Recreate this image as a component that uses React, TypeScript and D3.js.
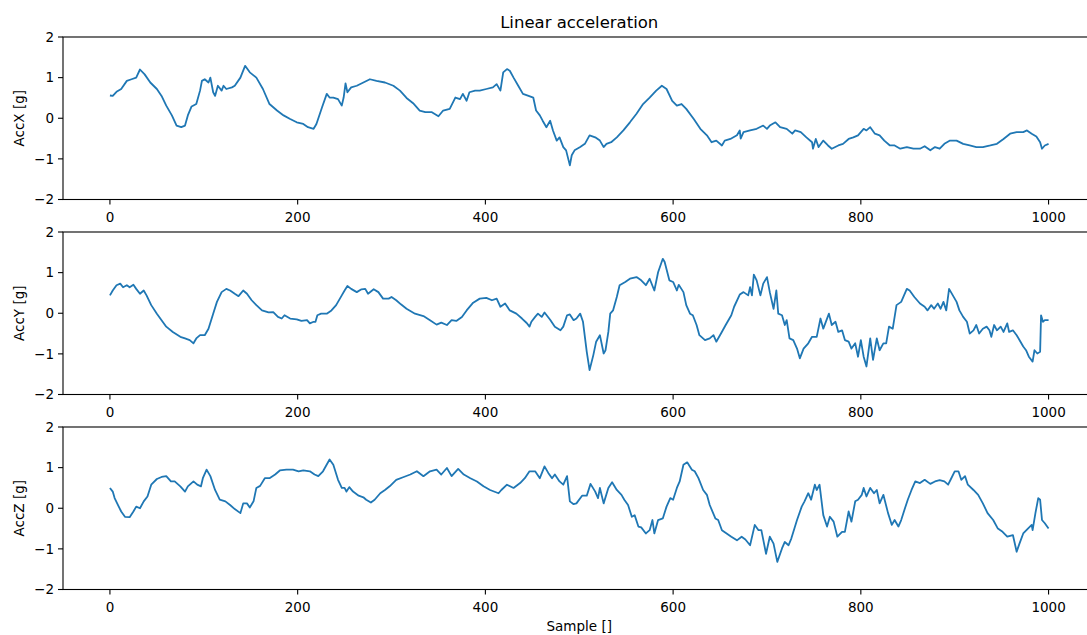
import React from "react";
import * as d3 from "d3";

// ---- Data (sample index, value in g) ----
const accXPoints: [number, number][] = [
  [0,0.56],[3,0.55],[7,0.65],[12,0.72],[18,0.92],[23,0.96],[28,1.0],[32,1.2],[37,1.08],[43,0.88],[50,0.72],[55,0.55],[60,0.31],[66,0.07],[71,-0.18],[76,-0.22],[80,-0.18],[83,0.07],[87,0.29],[92,0.35],[96,0.68],[98,0.92],[101,0.96],[105,0.88],[107,1.0],[110,0.64],[112,0.55],[115,0.8],[119,0.68],[121,0.8],[124,0.72],[130,0.76],[133,0.8],[139,1.0],[144,1.29],[149,1.13],[156,1.0],[163,0.72],[170,0.35],[178,0.19],[185,0.07],[192,-0.02],[199,-0.1],[206,-0.14],[211,-0.22],[217,-0.26],[220,-0.14],[226,0.27],[231,0.6],[234,0.51],[238,0.51],[243,0.47],[247,0.31],[249,0.51],[251,0.86],[253,0.64],[257,0.76],[263,0.8],[270,0.88],[277,0.96],[284,0.92],[293,0.88],[302,0.8],[309,0.68],[316,0.5],[323,0.37],[330,0.19],[336,0.15],[343,0.15],[350,0.05],[355,0.19],[362,0.23],[368,0.51],[373,0.47],[376,0.6],[380,0.43],[383,0.64],[389,0.68],[394,0.68],[401,0.72],[408,0.76],[412,0.84],[416,0.68],[419,1.13],[423,1.21],[426,1.17],[430,1.0],[435,0.8],[440,0.6],[446,0.55],[451,0.51],[454,0.19],[458,0.07],[461,-0.06],[465,-0.22],[469,-0.06],[472,-0.3],[476,-0.55],[479,-0.47],[483,-0.71],[486,-0.79],[490,-1.16],[492,-0.91],[495,-0.79],[501,-0.71],[506,-0.63],[511,-0.42],[517,-0.47],[522,-0.55],[526,-0.71],[529,-0.63],[534,-0.59],[540,-0.47],[547,-0.3],[554,-0.1],[561,0.11],[568,0.35],[575,0.51],[582,0.68],[588,0.8],[593,0.72],[599,0.43],[604,0.31],[609,0.35],[614,0.23],[622,-0.02],[629,-0.26],[636,-0.42],[641,-0.59],[646,-0.55],[652,-0.67],[655,-0.55],[661,-0.51],[668,-0.42],[671,-0.3],[672,-0.5],[675,-0.34],[682,-0.3],[689,-0.26],[696,-0.18],[700,-0.26],[703,-0.18],[709,-0.1],[714,-0.22],[721,-0.26],[727,-0.38],[730,-0.3],[736,-0.34],[742,-0.47],[748,-0.59],[749,-0.75],[752,-0.51],[755,-0.71],[760,-0.55],[765,-0.67],[769,-0.75],[776,-0.67],[781,-0.63],[787,-0.51],[792,-0.47],[797,-0.42],[803,-0.26],[806,-0.3],[810,-0.22],[815,-0.38],[820,-0.42],[825,-0.55],[831,-0.67],[836,-0.67],[842,-0.75],[849,-0.71],[856,-0.75],[863,-0.75],[868,-0.69],[874,-0.79],[879,-0.71],[884,-0.75],[889,-0.63],[895,-0.55],[902,-0.55],[909,-0.63],[916,-0.67],[923,-0.71],[930,-0.71],[938,-0.67],[945,-0.63],[952,-0.51],[959,-0.38],[966,-0.34],[973,-0.34],[977,-0.3],[982,-0.38],[987,-0.45],[991,-0.59],[993,-0.75],[996,-0.67],[1000,-0.63]
];

const accYPoints: [number, number][] = [
  [0,0.44],[3,0.56],[7,0.69],[11,0.73],[14,0.64],[18,0.69],[21,0.64],[25,0.7],[28,0.6],[32,0.48],[36,0.56],[39,0.44],[44,0.2],[50,-0.01],[55,-0.17],[60,-0.33],[67,-0.46],[75,-0.58],[80,-0.62],[85,-0.66],[89,-0.74],[92,-0.62],[96,-0.54],[101,-0.54],[105,-0.38],[110,-0.01],[114,0.28],[119,0.52],[124,0.6],[128,0.56],[133,0.48],[137,0.42],[142,0.56],[146,0.48],[151,0.32],[156,0.2],[162,0.07],[169,0.02],[174,0.03],[179,-0.09],[183,-0.13],[186,-0.05],[192,-0.13],[199,-0.15],[204,-0.19],[210,-0.17],[213,-0.25],[217,-0.21],[219,-0.21],[221,-0.05],[225,-0.01],[231,-0.01],[236,0.07],[241,0.2],[247,0.44],[250,0.56],[253,0.67],[257,0.6],[263,0.52],[268,0.59],[272,0.6],[275,0.48],[281,0.59],[286,0.52],[291,0.36],[297,0.36],[300,0.4],[305,0.32],[310,0.22],[316,0.11],[325,-0.01],[334,-0.07],[341,-0.17],[348,-0.28],[353,-0.23],[359,-0.29],[364,-0.17],[369,-0.19],[375,-0.09],[380,0.07],[387,0.26],[394,0.36],[401,0.38],[407,0.32],[412,0.36],[416,0.16],[421,0.24],[426,0.07],[433,-0.01],[439,-0.13],[444,-0.24],[447,-0.33],[449,-0.21],[453,-0.09],[456,-0.01],[460,-0.09],[463,0.02],[469,-0.16],[474,-0.33],[480,-0.42],[483,-0.33],[487,-0.05],[490,-0.03],[494,-0.17],[497,-0.13],[501,-0.01],[504,-0.21],[508,-0.95],[511,-1.4],[515,-1.03],[518,-0.7],[522,-0.54],[526,-0.99],[528,-0.91],[531,-0.46],[533,-0.01],[536,0.07],[540,0.4],[543,0.69],[549,0.77],[554,0.85],[561,0.89],[566,0.81],[571,0.69],[575,0.85],[580,0.56],[584,1.01],[589,1.34],[591,1.26],[596,0.81],[600,0.77],[604,0.56],[606,0.7],[611,0.52],[614,0.2],[618,-0.01],[621,-0.05],[625,-0.29],[628,-0.54],[634,-0.66],[639,-0.62],[643,-0.54],[646,-0.7],[651,-0.5],[656,-0.29],[662,-0.05],[665,0.16],[671,0.46],[675,0.52],[680,0.44],[682,0.64],[684,0.44],[686,0.95],[689,0.81],[693,0.44],[696,0.73],[700,0.89],[703,0.52],[707,0.11],[710,0.56],[712,-0.01],[716,-0.05],[719,-0.29],[721,-0.17],[724,-0.62],[728,-0.66],[732,-0.87],[735,-1.11],[739,-0.87],[744,-0.74],[748,-0.58],[753,-0.58],[757,-0.13],[760,-0.38],[766,-0.01],[769,-0.29],[773,-0.21],[776,-0.46],[780,-0.42],[783,-0.66],[787,-0.7],[790,-0.87],[794,-0.74],[797,-1.07],[800,-0.66],[803,-1.07],[806,-1.31],[810,-0.62],[813,-1.15],[817,-0.62],[820,-0.91],[824,-0.74],[827,-0.74],[830,-0.33],[834,-0.38],[838,0.2],[843,0.28],[849,0.6],[852,0.56],[857,0.4],[863,0.24],[868,0.16],[871,0.07],[875,0.2],[878,0.11],[882,0.24],[885,0.11],[888,0.28],[891,0.07],[894,0.6],[898,0.44],[902,0.28],[905,0.07],[909,-0.09],[913,-0.21],[916,-0.5],[920,-0.42],[923,-0.29],[926,-0.5],[930,-0.38],[934,-0.33],[937,-0.42],[939,-0.58],[942,-0.29],[945,-0.42],[949,-0.33],[952,-0.46],[956,-0.25],[958,-0.46],[962,-0.42],[966,-0.54],[969,-0.66],[973,-0.82],[976,-0.91],[979,-1.07],[983,-1.19],[985,-0.91],[988,-0.99],[991,-0.95],[992,-0.05],[994,-0.21],[996,-0.17],[1000,-0.17]
];

const accZPoints: [number, number][] = [
  [0,0.5],[3,0.41],[5,0.25],[9,0.06],[12,-0.08],[16,-0.21],[21,-0.22],[25,-0.08],[28,0.04],[32,0],[36,0.17],[40,0.29],[44,0.58],[50,0.72],[55,0.77],[60,0.79],[65,0.66],[69,0.66],[75,0.54],[80,0.41],[83,0.54],[89,0.66],[93,0.58],[97,0.54],[99,0.74],[103,0.95],[107,0.79],[112,0.45],[117,0.21],[123,0.17],[128,0.08],[133,-0.02],[139,-0.12],[142,0.12],[146,0.12],[149,0.02],[153,0.17],[156,0.5],[160,0.55],[165,0.74],[170,0.74],[176,0.83],[181,0.93],[188,0.95],[195,0.95],[201,0.91],[206,0.93],[213,0.91],[218,0.83],[222,0.79],[227,0.91],[234,1.2],[238,1.07],[243,0.7],[247,0.5],[250,0.5],[252,0.41],[255,0.52],[259,0.41],[265,0.31],[270,0.27],[273,0.21],[278,0.14],[282,0.21],[288,0.37],[293,0.45],[298,0.54],[305,0.7],[313,0.77],[320,0.83],[327,0.91],[334,0.79],[341,0.91],[348,0.95],[353,0.83],[359,0.99],[364,0.79],[371,0.97],[377,0.83],[384,0.74],[391,0.66],[398,0.54],[405,0.45],[414,0.37],[417,0.45],[423,0.58],[430,0.5],[437,0.62],[442,0.74],[447,0.91],[453,0.91],[458,0.74],[463,1.03],[467,0.87],[471,0.74],[474,0.83],[479,0.66],[483,0.58],[487,0.79],[490,0.17],[494,0.1],[497,0.12],[503,0.31],[508,0.31],[512,0.6],[517,0.41],[520,0.25],[522,0.5],[526,0.12],[531,0.5],[535,0.64],[540,0.45],[545,0.33],[548,0.21],[552,0.08],[556,-0.21],[559,-0.17],[563,-0.45],[566,-0.47],[571,-0.62],[575,-0.54],[578,-0.29],[580,-0.62],[584,-0.29],[589,-0.25],[593,0.04],[597,0.25],[600,0.21],[604,0.5],[607,0.66],[611,1.07],[615,1.13],[620,0.95],[623,0.91],[627,0.74],[632,0.45],[636,0.33],[639,0.08],[645,-0.25],[648,-0.29],[652,-0.54],[657,-0.62],[662,-0.7],[668,-0.79],[673,-0.7],[677,-0.77],[682,-0.91],[687,-0.41],[691,-0.54],[694,-0.54],[699,-1.12],[703,-0.7],[707,-0.87],[711,-1.32],[716,-0.99],[719,-0.83],[723,-0.91],[726,-0.74],[732,-0.29],[737,0.04],[740,0.17],[744,0.37],[747,0.21],[751,0.58],[753,0.45],[756,0.58],[760,-0.17],[764,-0.45],[767,-0.21],[771,-0.33],[775,-0.7],[780,-0.58],[783,-0.58],[787,-0.08],[790,-0.33],[794,0.17],[797,0.21],[801,0.33],[803,0.5],[806,0.29],[810,0.5],[814,0.37],[817,0.45],[820,0.12],[824,0.33],[829,-0.12],[833,-0.41],[836,-0.29],[840,-0.45],[843,-0.29],[847,0],[850,0.21],[854,0.45],[858,0.66],[863,0.62],[868,0.7],[874,0.6],[879,0.66],[884,0.69],[889,0.66],[893,0.58],[896,0.72],[900,0.91],[904,0.91],[907,0.7],[911,0.79],[914,0.58],[920,0.45],[925,0.33],[930,0.12],[935,-0.12],[941,-0.29],[946,-0.5],[951,-0.58],[956,-0.7],[962,-0.66],[966,-1.07],[969,-0.87],[973,-0.62],[978,-0.5],[982,-0.41],[983,-0.54],[986,-0.12],[989,0.25],[991,0.21],[993,-0.29],[996,-0.37],[1000,-0.5]
];

const seriesLabels = ["AccX [g]", "AccY [g]", "AccZ [g]"];
const xTicks = [0, 200, 400, 600, 800, 1000];
const yTicks = [-2, -1, 0, 1, 2];
const titleText = "Linear acceleration";
const xLabelText = "Sample []";

// ---- Layout ----
const W = 1087;
const H = 635;
const axLeft = 63;
const axRight = 1095.5;
const axTops = [37, 232, 427];
const axH = 162.5;
const FONT = "DejaVu Sans, sans-serif";
const LINE = "#1f77b4";

const fmt = (v: number) => (v < 0 ? "\u2212" + Math.abs(v) : String(v));

export default function App() {
  const x = d3.scaleLinear().domain([-50, 1050]).range([axLeft, axRight]);
  const allSeries = [accXPoints, accYPoints, accZPoints];

  return (
    <svg
      width={W}
      height={H}
      style={{ position: "absolute", left: 0, top: 0, background: "#fff" }}
      fontFamily={FONT}
    >
      <rect x={0} y={0} width={W} height={H} fill="#fff" />
      {allSeries.map((pts, i) => {
        const top = axTops[i];
        const y = d3.scaleLinear().domain([-2, 2]).range([top + axH, top]);
        const line = d3
          .line<[number, number]>()
          .x((d) => x(d[0]))
          .y((d) => y(d[1]));
        return (
          <g key={i}>
            <path d={line(pts) || ""} fill="none" stroke={LINE} strokeWidth={1.8} strokeLinejoin="round" />
            <rect x={axLeft} y={top} width={axRight - axLeft} height={axH} fill="none" stroke="#000" strokeWidth={1.1} />
            {yTicks.map((t) => (
              <g key={t}>
                <line x1={axLeft - 5} x2={axLeft} y1={y(t)} y2={y(t)} stroke="#000" strokeWidth={1.1} />
                <text x={axLeft - 9} y={y(t)} dy="0.36em" textAnchor="end" fontSize={13.5} fill="#000">
                  {fmt(t)}
                </text>
              </g>
            ))}
            {xTicks.map((t) => (
              <g key={t}>
                <line x1={x(t)} x2={x(t)} y1={top + axH} y2={top + axH + 5} stroke="#000" strokeWidth={1.1} />
                <text x={x(t)} y={top + axH + 22} textAnchor="middle" fontSize={13.5} fill="#000">
                  {t}
                </text>
              </g>
            ))}
            <text
              transform={`translate(${19},${top + axH / 2}) rotate(-90)`}
              textAnchor="middle"
              dy="0.36em"
              fontSize={13.5}
              fill="#000"
            >
              {seriesLabels[i]}
            </text>
          </g>
        );
      })}
      <text x={(axLeft + axRight) / 2} y={28} textAnchor="middle" fontSize={16.5} fill="#000">
        {titleText}
      </text>
      <text x={(axLeft + axRight) / 2} y={631} textAnchor="middle" fontSize={13.5} fill="#000">
        {xLabelText}
      </text>
    </svg>
  );
}
